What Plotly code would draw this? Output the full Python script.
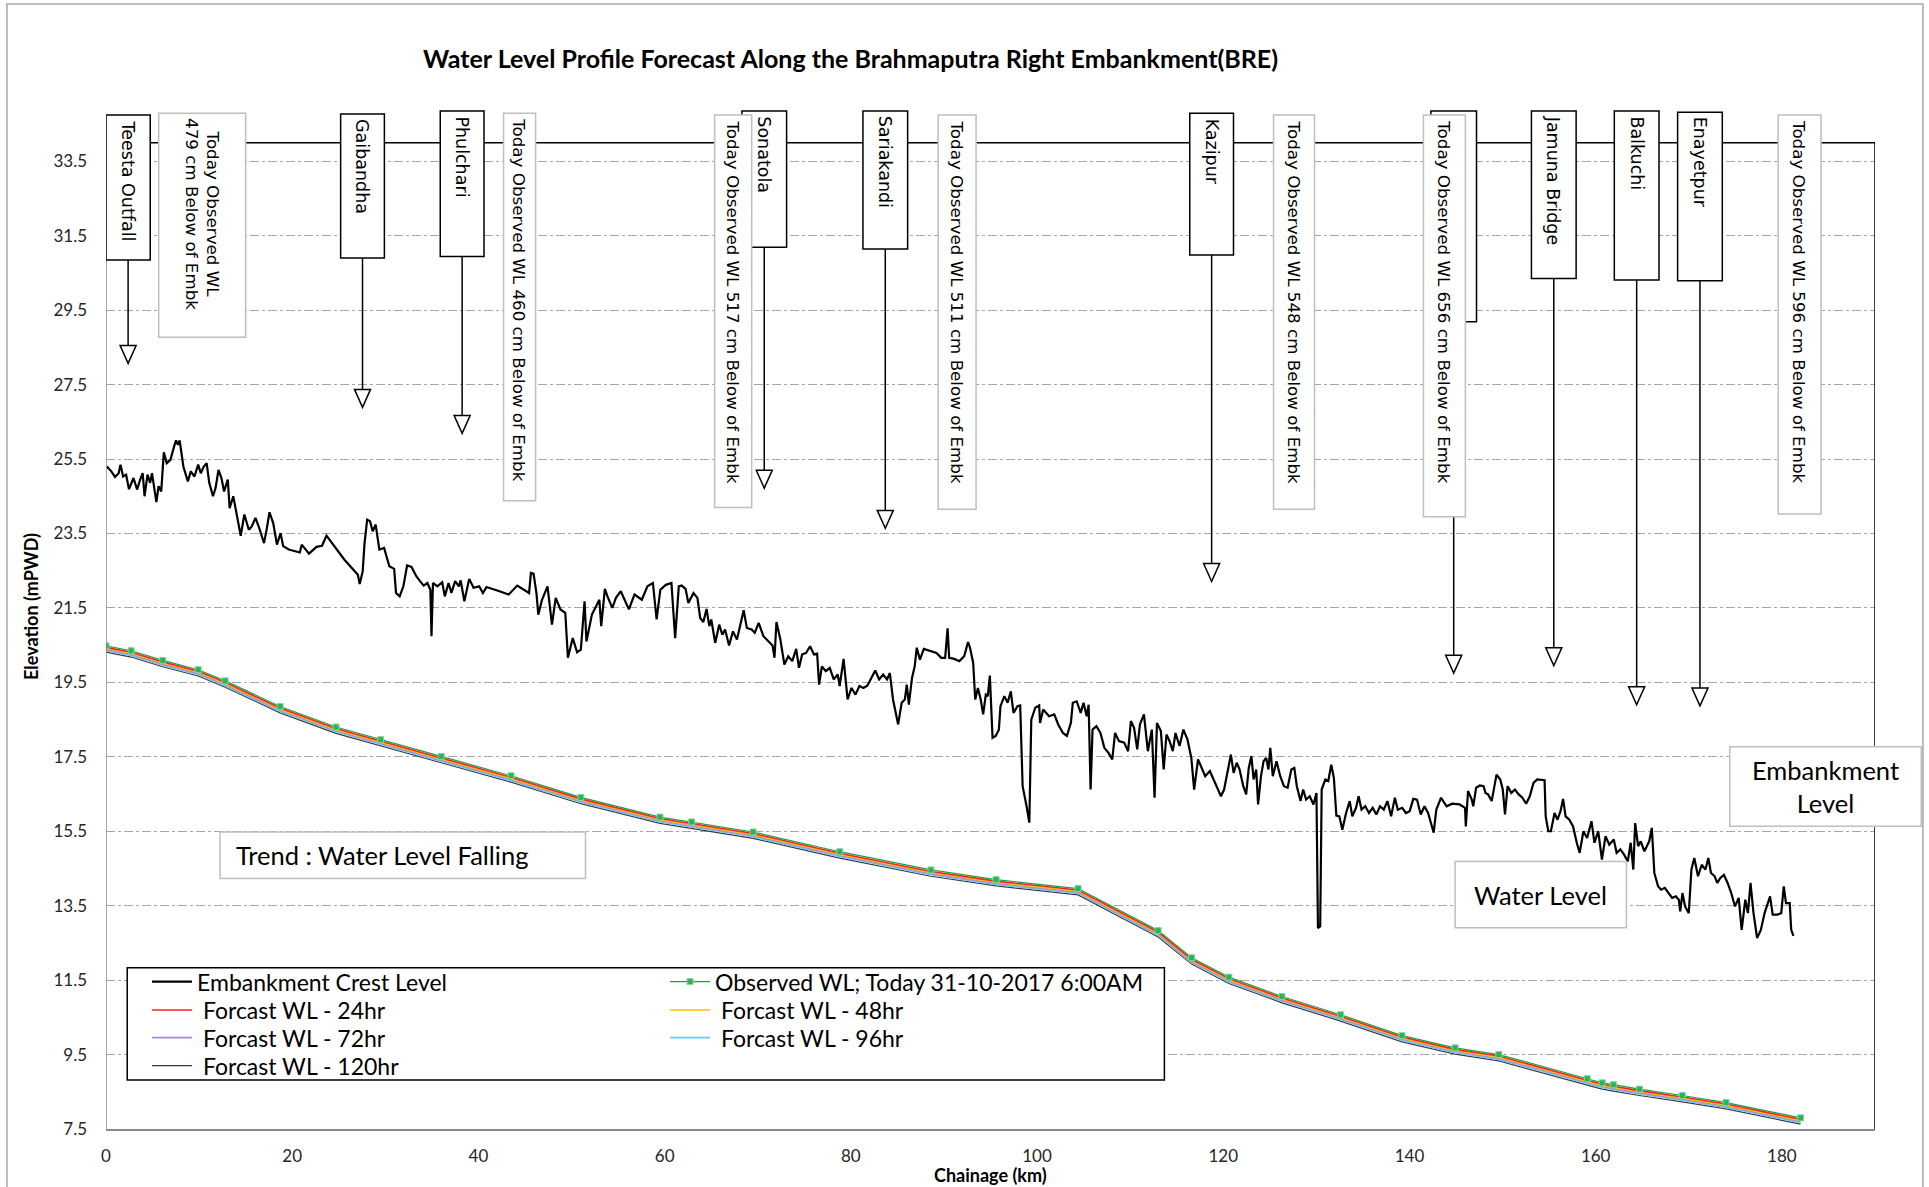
import plotly.graph_objects as go

# ---- water level profile (observed + forecasts), chainage in km ----
wl_km = [0, 2.7, 6.1, 9.9, 12.8, 18.7, 24.7, 29.5, 36.0, 43.5, 51.0, 59.5, 62.9, 69.5, 78.8, 88.6, 95.6, 104.4,
         113.0, 116.6, 120.6, 126.3, 132.6, 139.2, 144.9, 149.6, 159.1, 160.7, 161.9, 164.7, 169.3, 174.0, 182.0]
wl_obs = [20.48, 20.35, 20.09, 19.84, 19.54, 18.85, 18.30, 17.96, 17.51, 16.99, 16.41, 15.88, 15.75, 15.48, 14.95,
          14.46, 14.20, 13.96, 12.83, 12.10, 11.58, 11.06, 10.57, 10.01, 9.68, 9.50, 8.85, 8.74, 8.69, 8.57, 8.40,
          8.21, 7.80]
wl_24 = [20.44, 20.31, 20.05, 19.80, 19.50, 18.81, 18.26, 17.92, 17.47, 16.95, 16.37, 15.84, 15.71, 15.44, 14.91,
         14.42, 14.16, 13.92, 12.79, 12.06, 11.54, 11.02, 10.53, 9.97, 9.64, 9.46, 8.81, 8.70, 8.65, 8.53, 8.36,
         8.17, 7.76]
wl_48 = [20.41, 20.28, 20.02, 19.77, 19.47, 18.78, 18.23, 17.89, 17.44, 16.92, 16.34, 15.81, 15.68, 15.41, 14.88,
         14.39, 14.13, 13.89, 12.76, 12.03, 11.51, 10.99, 10.50, 9.94, 9.61, 9.43, 8.78, 8.67, 8.62, 8.50, 8.33,
         8.14, 7.73]
wl_72 = [20.38, 20.25, 19.99, 19.74, 19.44, 18.75, 18.20, 17.86, 17.41, 16.89, 16.31, 15.78, 15.65, 15.38, 14.85,
         14.36, 14.10, 13.86, 12.73, 12.00, 11.48, 10.96, 10.47, 9.91, 9.58, 9.40, 8.75, 8.64, 8.59, 8.47, 8.30,
         8.11, 7.70]
wl_96 = [20.35, 20.22, 19.96, 19.71, 19.41, 18.72, 18.17, 17.83, 17.38, 16.86, 16.28, 15.75, 15.62, 15.35, 14.82,
         14.33, 14.07, 13.83, 12.70, 11.97, 11.45, 10.93, 10.44, 9.88, 9.55, 9.37, 8.72, 8.61, 8.56, 8.44, 8.27,
         8.08, 7.67]
wl_120 = [20.31, 20.18, 19.92, 19.67, 19.37, 18.68, 18.13, 17.79, 17.34, 16.82, 16.24, 15.71, 15.58, 15.31, 14.78,
          14.29, 14.03, 13.79, 12.66, 11.93, 11.41, 10.89, 10.40, 9.84, 9.51, 9.33, 8.68, 8.57, 8.52, 8.40, 8.23,
          8.04, 7.63]

# ---- embankment crest level ----
crest_x = [
    0.09, 0.57, 0.97, 1.36, 1.56, 1.84, 2.16, 2.47, 2.95, 3.35,
    3.67, 3.94, 4.14, 4.46, 4.74, 4.94, 5.41, 5.65, 5.93, 6.21,
    6.52, 6.92, 7.32, 7.52, 7.72, 7.91, 8.31, 8.79, 9.11, 9.50,
    9.90, 10.18, 10.50, 10.81, 11.09, 11.49, 11.77, 12.08, 12.40, 12.68,
    13.08, 13.28, 13.67, 14.07, 14.47, 14.86, 15.34, 15.66, 16.05, 16.45,
    16.97, 17.25, 17.56, 17.96, 18.36, 18.75, 19.03, 19.63, 20.82, 21.02,
    21.81, 22.61, 23.20, 23.68, 25.59, 27.05, 27.25, 27.57, 27.77, 28.05,
    28.36, 28.64, 28.96, 29.36, 29.87, 30.43, 30.95, 31.15, 31.54, 31.94,
    32.34, 32.81, 33.33, 33.73, 34.12, 34.52, 34.84, 34.96, 35.12, 35.59,
    36.11, 36.39, 36.79, 37.10, 37.50, 37.90, 38.09, 38.49, 39.01, 39.48,
    40.08, 40.48, 40.87, 42.26, 43.25, 44.17, 45.44, 45.64, 45.92, 46.23,
    46.43, 46.83, 47.42, 47.90, 48.30, 48.81, 49.33, 49.61, 50.13, 50.60,
    51.00, 51.40, 51.60, 52.19, 52.99, 53.19, 53.58, 53.86, 54.38, 54.77,
    55.29, 55.77, 56.16, 56.76, 57.55, 58.15, 58.74, 59.14, 59.54, 60.13,
    60.73, 61.13, 61.52,
    61.82, 62.25, 62.55, 63.10, 63.52, 63.82, 64.16, 64.50, 64.80, 65.01,
    65.43, 65.86, 66.20, 66.49, 66.92, 67.34, 67.77, 68.19, 68.49, 68.83,
    69.34, 69.68, 70.10, 70.61, 71.16, 71.59, 71.80, 72.01, 72.43, 72.86,
    73.28, 73.71, 74.13, 74.43, 74.77, 75.19, 75.62, 76.04, 76.38, 76.59,
    76.89, 77.31, 77.74, 78.16, 78.59, 78.80, 79.22, 79.65, 80.07, 80.50,
    80.92, 81.35, 81.77, 82.20, 82.62, 83.04, 83.47, 83.89, 84.19, 84.53,
    84.83, 85.08, 85.46, 85.80, 86.01, 86.23, 86.57, 86.86, 87.08, 87.42,
    87.84, 88.56, 89.20, 89.71, 90.13, 90.39, 90.56, 91.11, 91.66, 92.17,
    92.59, 92.80, 93.14, 93.36, 93.65, 93.95, 94.21, 94.50, 94.71, 94.93,
    95.22, 95.56, 95.90, 96.07, 96.49, 96.84, 97.18, 97.47, 97.90, 98.19,
    98.45, 98.87, 99.17, 99.38, 99.81, 100.23, 100.32, 100.66, 101.29, 101.85,
    102.27, 102.78, 103.20, 103.63, 103.84, 104.26, 104.69, 104.99, 105.33, 105.54,
    105.75, 105.96, 106.38, 106.81, 107.23, 107.66, 108.08, 108.38, 108.80, 109.36,
    109.78, 110.08, 110.42, 110.76, 111.05, 111.48, 111.90, 112.33, 112.62, 112.88,
    113.30, 113.60, 113.90, 114.24, 114.58, 114.87, 115.30, 115.72, 116.15, 116.57,
    116.87, 117.29, 117.72, 118.06, 118.56, 118.99, 119.42, 119.75, 120.09, 120.39,
    120.82, 121.11, 121.45,
    121.75, 122.15, 122.46, 122.74, 123.02, 123.26, 123.54, 123.74, 124.05, 124.33,
    124.61, 124.85, 125.05, 125.32, 125.72, 126.12, 126.52, 126.91, 127.31, 127.63,
    127.90, 128.30, 128.58, 128.90, 129.29, 129.69, 130.01, 130.17, 130.41, 130.57,
    130.96, 131.28, 131.60, 131.88, 132.15, 132.47, 132.79, 133.19, 133.58, 133.86,
    134.26, 134.54, 134.85, 135.25, 135.65, 136.05, 136.44, 136.84, 137.24, 137.63,
    138.03, 138.43, 138.75, 139.22, 139.62, 140.02, 140.41, 140.81, 141.21, 141.61,
    142.00, 142.32, 142.60, 142.88, 143.39, 143.99, 144.58, 145.38, 145.97, 146.05,
    146.29, 146.69, 146.85, 147.16, 147.56, 147.96, 148.16, 148.44, 148.83, 149.35,
    149.75, 150.02, 150.26, 150.54, 150.94, 151.33, 151.73, 152.13, 152.53, 152.92,
    153.32, 153.72, 154.51, 154.63, 154.91, 155.19, 155.58, 155.90, 156.22, 156.50,
    156.77, 157.17, 157.57, 157.97, 158.28, 158.68, 159.08, 159.55, 159.87, 160.27,
    160.67, 161.06, 161.46, 161.94, 162.25, 162.65, 163.05, 163.45, 163.76, 164.04,
    164.24, 164.56, 164.84, 165.23, 165.75, 166.03, 166.30, 166.70, 167.02, 167.42,
    167.81, 168.21, 168.61, 168.93, 169.08, 169.32, 169.60, 170.00, 170.28, 170.59,
    170.99, 171.39, 171.79, 172.10, 172.38, 172.78, 173.06, 173.37, 173.77, 174.17,
    174.56, 174.96, 175.36, 175.68, 176.07, 176.35, 176.63, 176.95, 177.34, 177.74,
    178.14, 178.73, 179.01, 179.53, 179.93, 180.20, 180.44, 180.84, 181.00, 181.24,
]
crest_y = [
    25.30, 25.17, 25.02, 25.12, 25.35, 25.03, 25.08, 24.69, 24.99, 24.68,
    24.95, 25.12, 24.50, 25.08, 24.86, 25.12, 24.34, 24.77, 24.63, 25.68,
    25.39, 25.48, 25.84, 26.00, 25.88, 26.00, 25.30, 24.90, 25.17, 25.03,
    25.35, 25.12, 25.30, 25.39, 24.86, 24.50, 24.72, 25.21, 24.99, 24.63,
    24.95, 24.18, 24.50, 23.92, 23.44, 24.01, 23.60, 23.69, 23.92, 23.65,
    23.24, 23.60, 24.07, 23.78, 23.20, 23.51, 23.16, 23.07, 22.99, 23.20,
    22.96, 23.14, 23.17, 23.44, 22.80, 22.39, 22.14, 22.48, 23.24, 23.87,
    23.83, 23.56, 23.74, 23.07, 23.11, 22.62, 22.55, 21.90, 21.81, 22.08,
    22.64, 22.60, 22.35, 22.22, 22.10, 22.17, 21.99, 20.74, 22.17, 22.08,
    22.19, 21.81, 22.17, 21.90, 22.22, 22.08, 22.24, 21.68, 22.28, 22.04,
    22.08, 21.90, 22.06, 21.95, 21.86, 22.10, 21.90, 22.44, 22.42, 21.90,
    21.32, 21.72, 22.08, 21.05, 21.77, 21.46, 21.37, 20.16, 20.69, 20.31,
    20.38, 21.68, 20.60, 21.32, 21.72, 21.01, 22.01, 21.81, 21.50, 21.77,
    21.95, 21.68, 21.46, 21.86, 21.72, 22.08, 22.17, 21.19, 21.99, 22.12,
    22.17, 20.69, 22.08,
    22.10, 22.01, 21.63, 21.90, 21.77, 21.23, 21.12, 21.47, 21.01, 21.19,
    20.56, 21.05, 20.78, 20.92, 20.49, 20.87, 20.65, 21.10, 21.44, 20.96,
    20.92, 20.83, 21.10, 20.74, 20.61, 20.49, 20.16, 21.12, 20.65, 19.98,
    20.20, 20.07, 20.40, 19.89, 20.25, 20.29, 20.47, 20.25, 20.27, 19.44,
    19.93, 19.80, 19.89, 19.58, 19.71, 19.40, 20.13, 19.04, 19.35, 19.17,
    19.40, 19.35, 19.41, 19.62, 19.82, 19.58, 19.71, 19.58, 19.75, 19.04,
    18.68, 18.37, 18.95, 19.04, 19.44, 18.90, 19.62, 19.93, 20.43, 20.11,
    20.40, 20.34, 20.29, 20.16, 20.16, 20.95, 20.16, 20.13, 20.07, 20.20,
    20.58, 20.43, 20.02, 19.04, 19.35, 19.04, 18.64, 19.17, 19.13, 19.68,
    18.01, 18.06, 18.23, 18.86, 19.13, 18.95, 19.26, 18.68, 18.86, 18.88,
    16.71, 16.18, 15.73, 18.50, 18.82, 18.88, 18.41, 18.77, 18.59, 18.64,
    18.37, 18.14, 18.06, 18.41, 18.95, 18.99, 18.68, 18.95, 18.59, 18.90,
    16.62, 18.23, 18.32, 18.14, 17.74, 17.61, 17.43, 18.14, 17.92, 17.88,
    17.65, 18.46, 18.28, 17.70, 18.37, 18.64, 17.65, 18.23, 16.40, 18.41,
    18.19, 17.16, 18.10, 17.92, 17.65, 18.14, 17.79, 18.23, 17.97, 17.47,
    16.62, 17.43, 17.20, 16.98, 17.12, 16.89, 16.62, 16.44, 16.62, 17.03,
    17.56, 17.07, 17.34,
    17.16, 16.71, 16.49, 17.20, 17.52, 16.89, 17.16, 16.22, 16.98, 17.38,
    17.47, 17.16, 17.74, 16.98, 17.38, 16.98, 16.71, 16.67, 17.16, 17.20,
    16.71, 16.31, 16.62, 16.35, 16.44, 16.22, 16.53, 12.90, 12.94, 16.62,
    16.89, 16.85, 17.29, 16.93, 15.92, 15.90, 15.54, 15.99, 16.31, 15.90,
    16.13, 16.44, 16.08, 16.17, 15.99, 16.13, 15.95, 16.17, 16.08, 16.31,
    15.90, 16.40, 16.08, 16.13, 15.99, 16.04, 16.37, 16.35, 15.95, 16.17,
    15.99, 15.68, 15.46, 16.08, 16.40, 16.17, 16.24, 16.22, 16.13, 15.63,
    16.58, 16.35, 16.17, 16.67, 16.73, 16.71, 16.53, 16.49, 16.31, 17.02,
    16.89, 16.62, 15.95, 16.71, 16.53, 16.62, 16.49, 16.40, 16.24, 16.44,
    16.80, 16.89, 16.87, 15.90, 15.50, 15.50, 15.99, 15.81, 16.04, 16.37,
    15.90, 15.81, 15.63, 15.19, 14.92, 15.50, 15.32, 15.77, 15.19, 15.50,
    14.74, 15.37, 15.14, 15.28, 14.92, 15.01, 14.87, 14.69, 15.19, 14.47,
    15.72, 15.10, 15.23, 14.96, 15.23, 15.59, 14.38, 14.02, 13.93, 13.98,
    13.84, 13.71, 13.75, 13.66, 13.35, 13.84, 13.48, 13.30, 14.47, 14.78,
    14.29, 14.60, 14.47, 14.78, 14.38, 14.29, 14.11, 14.24, 14.33, 14.11,
    13.84, 13.48, 13.71, 12.85, 13.66, 13.30, 14.11, 13.30, 12.63, 12.85,
    13.30, 13.75, 13.26, 13.26, 13.30, 14.02, 13.57, 13.57, 12.85, 12.69,
]

# ---- gauge stations (boxes at top with arrow to the level) ----
st_names = ["Teesta Outfall", "Gaibandha", "Phulchari", "Sonatola", "Sariakandi", "Kazipur", "",
            "Jamuna Bridge", "Balkuchi", "Enayetpur"]
st_x0 = [0.0, 25.2, 35.9, 68.3, 81.3, 116.4, 142.3, 153.1, 162.0, 168.8]
st_x1 = [4.75, 29.9, 40.6, 73.1, 86.1, 121.1, 147.2, 157.9, 166.8, 173.6]
st_top = [34.74, 34.77, 34.85, 34.85, 34.85, 34.79, 34.85, 34.85, 34.85, 34.82]
st_bottom = [30.85, 30.90, 30.94, 31.19, 31.14, 30.98, 29.19, 30.35, 30.31, 30.29]
st_tip = [28.07, 26.89, 26.19, 24.72, 23.64, 22.21, 19.75, 19.95, 18.90, 18.87]

# ---- "today observed" notes ----
note_text = ["Today Observed WL<br>479 cm Below of Embk",
             "Today Observed WL 460 cm Below of Embk",
             "Today Observed WL 517 cm Below of Embk",
             "Today Observed WL 511 cm Below of Embk",
             "Today Observed WL 548 cm Below of Embk",
             "Today Observed WL 656 cm Below of Embk",
             "Today Observed WL 596 cm Below of Embk"]
note_x0 = [5.66, 42.7, 65.37, 89.38, 125.4, 141.5, 179.6]
note_x1 = [15.0, 46.14, 69.35, 93.45, 129.8, 146.0, 184.2]
note_top = [34.79, 34.79, 34.74, 34.74, 34.74, 34.74, 34.74]
note_bottom = [28.77, 24.38, 24.20, 24.15, 24.15, 23.95, 24.02]

EMB_TOP = 34.0
X_MAX = 190
HEAD_HW = 0.86   # arrow head half width (km)
HEAD_H = 0.48    # arrow head height (m)
GRAY_BOX = "#bfbfbf"

fig = go.Figure()

# legend rows: legend (row1) .. legend4 (row4), two columns
series = [
    ("\u00a0Forcast WL - 120hr", wl_120, "#3a3a3a", 1.2, 1, "legend4"),
    ("\u00a0Forcast WL - 96hr", wl_96, "#6cc8f5", 1.6, 2, "legend3"),
    ("\u00a0Forcast WL - 72hr", wl_72, "#a98bd6", 1.6, 1, "legend3"),
    ("\u00a0Forcast WL - 48hr", wl_48, "#ffc000", 1.6, 2, "legend2"),
    ("\u00a0Forcast WL - 24hr", wl_24, "#ff2020", 1.6, 1, "legend2"),
]
for name, ys, col, w, rank, lg in series:
    fig.add_trace(go.Scatter(x=wl_km, y=ys, mode="lines", name=name,
                             line=dict(color=col, width=w), legendrank=rank, legend=lg))

fig.add_trace(go.Scatter(x=crest_x, y=crest_y, mode="lines", name="Embankment Crest Level",
                         line=dict(color="black", width=2.2), legendrank=1, legend="legend"))
fig.add_trace(go.Scatter(x=wl_km, y=wl_obs, mode="lines+markers",
                         name="Observed WL; Today 31-10-2017 6:00AM",
                         line=dict(color="#1f9e4a", width=1.2),
                         marker=dict(symbol="square", size=6, color="#2bb35a",
                                     line=dict(color="#7fd89a", width=1)),
                         legendrank=2, legend="legend"))

shapes = []
# axis frame
shapes.append(dict(type="line", x0=0, x1=0, y0=7.5, y1=EMB_TOP, line=dict(color="#8a8a8a", width=1.5)))
shapes.append(dict(type="line", x0=0, x1=X_MAX, y0=EMB_TOP, y1=EMB_TOP, line=dict(color="black", width=1.5)))
shapes.append(dict(type="line", x0=X_MAX, x1=X_MAX, y0=7.5, y1=EMB_TOP, line=dict(color="black", width=1.5)))

# station arrows
for x0, x1, bot, tip in zip(st_x0, st_x1, st_bottom, st_tip):
    xc = (x0 + x1) / 2
    shapes.append(dict(type="line", x0=xc, x1=xc, y0=bot, y1=tip + HEAD_H, line=dict(color="black", width=1.5)))
    shapes.append(dict(type="path",
                       path=f"M {xc - HEAD_HW},{tip + HEAD_H} L {xc + HEAD_HW},{tip + HEAD_H} L {xc},{tip} Z",
                       fillcolor="white", line=dict(color="black", width=1.5)))
# station boxes
for x0, x1, top, bot in zip(st_x0, st_x1, st_top, st_bottom):
    shapes.append(dict(type="rect", x0=x0, x1=x1, y0=bot, y1=top, fillcolor="white",
                       line=dict(color="black", width=1.5)))
# note boxes
for x0, x1, top, bot in zip(note_x0, note_x1, note_top, note_bottom):
    shapes.append(dict(type="rect", x0=x0, x1=x1, y0=bot, y1=top, fillcolor="white",
                       line=dict(color=GRAY_BOX, width=1.5)))
# trend / water level boxes
shapes.append(dict(type="rect", x0=12.25, x1=51.5, y0=14.23, y1=15.48, fillcolor="white",
                   line=dict(color=GRAY_BOX, width=1.5)))
shapes.append(dict(type="rect", x0=144.9, x1=163.3, y0=12.91, y1=14.69, fillcolor="white",
                   line=dict(color=GRAY_BOX, width=1.5)))
# legend frame
shapes.append(dict(type="rect", xref="paper", yref="paper", x0=0.012, x1=0.5983, y0=0.0475, y1=0.1565,
                   fillcolor="white", line=dict(color="black", width=1.5)))
# outer chart border
shapes.append(dict(type="rect", xref="paper", yref="paper", x0=-0.056, x1=1.0271, y0=-0.07, y1=1.0912,
                   line=dict(color="#a6a6a6", width=1.5)))
for s in shapes:
    s.setdefault("layer", "above")

annotations = []
st_font = dict(family="DejaVu Sans", size=17.5, color="black")
note_font = dict(family="DejaVu Sans", size=16.7, color="black")
for name, x0, x1, top in zip(st_names, st_x0, st_x1, st_top):
    if name:
        annotations.append(dict(x=(x0 + x1) / 2, y=top, text=name, textangle=90, showarrow=False,
                                xanchor="center", yanchor="top", borderpad=4, font=st_font))
for txt, x0, x1, top in zip(note_text, note_x0, note_x1, note_top):
    annotations.append(dict(x=(x0 + x1) / 2, y=top, text=txt, textangle=90, showarrow=False,
                            xanchor="center", yanchor="top", borderpad=4, font=note_font))

box_font = dict(family="Lato", size=25.5, color="black")
annotations += [
    dict(x=13.8, y=14.855, text="Trend : Water Level Falling", showarrow=False,
         xanchor="left", yanchor="middle", font=box_font),
    dict(x=154.1, y=13.8, text="Water Level", showarrow=False,
         xanchor="center", yanchor="middle", font=box_font),
    dict(x=174.3, y=17.8, text="Embankment<br>Level", showarrow=False, xanchor="left", yanchor="top",
         width=190, height=78, align="center", valign="middle", bgcolor="white",
         bordercolor=GRAY_BOX, borderwidth=1.5, borderpad=0, font=box_font),
    dict(xref="paper", yref="paper", x=0.4206, y=1.0388,
         text="<b>Water Level Profile Forecast Along the Brahmaputra Right Embankment(BRE)</b>",
         showarrow=False, xanchor="center", yanchor="middle",
         font=dict(family="Lato", size=25, color="black")),
    dict(xref="paper", yref="paper", x=-0.0424, y=0.5073, text="<b>Elevation (mPWD)</b>", textangle=-90,
         showarrow=False, xanchor="center", yanchor="middle", font=dict(family="Lato", size=18, color="black")),
    dict(xref="paper", yref="paper", x=0.5, y=-0.0451, text="<b>Chainage (km)</b>",
         showarrow=False, xanchor="center", yanchor="middle", font=dict(family="Lato", size=18, color="black")),
]

legend_common = dict(orientation="h", yanchor="middle", xanchor="left", x=0.0232,
                     bgcolor="rgba(0,0,0,0)", borderwidth=0,
                     font=dict(family="Lato", size=23, color="black"),
                     itemwidth=40, entrywidth=463, entrywidthmode="pixels", traceorder="normal")

fig.update_layout(
    width=1929, height=1187,
    margin=dict(l=106, r=54, t=98, b=58),
    paper_bgcolor="white", plot_bgcolor="white",
    showlegend=True,
    legend=dict(y=0.1429, **legend_common),
    legend2=dict(y=0.1154, **legend_common),
    legend3=dict(y=0.0886, **legend_common),
    legend4=dict(y=0.0614, **legend_common),
    shapes=shapes,
    annotations=annotations,
    font=dict(family="Lato", color="#262626"),
)
fig.update_xaxes(range=[0, X_MAX], tick0=0, dtick=20, showgrid=False, zeroline=False,
                 showline=True, linecolor="#8a8a8a", linewidth=2, ticks="",
                 ticklabelstandoff=11, tickfont=dict(family="Lato", size=17, color="#262626"))
fig.update_yaxes(range=[7.5, 35.2], tick0=7.5, dtick=2, showgrid=True, gridcolor="#a6a6a6",
                 griddash="dashdot", gridwidth=1, zeroline=False, showline=False, ticks="",
                 ticklabelstandoff=18, tickformat=".1f", tickfont=dict(family="Lato", size=17, color="#262626"))

fig.write_html("out.html", config={"displayModeBar": False},
               post_script="document.body.style.margin='0';")
